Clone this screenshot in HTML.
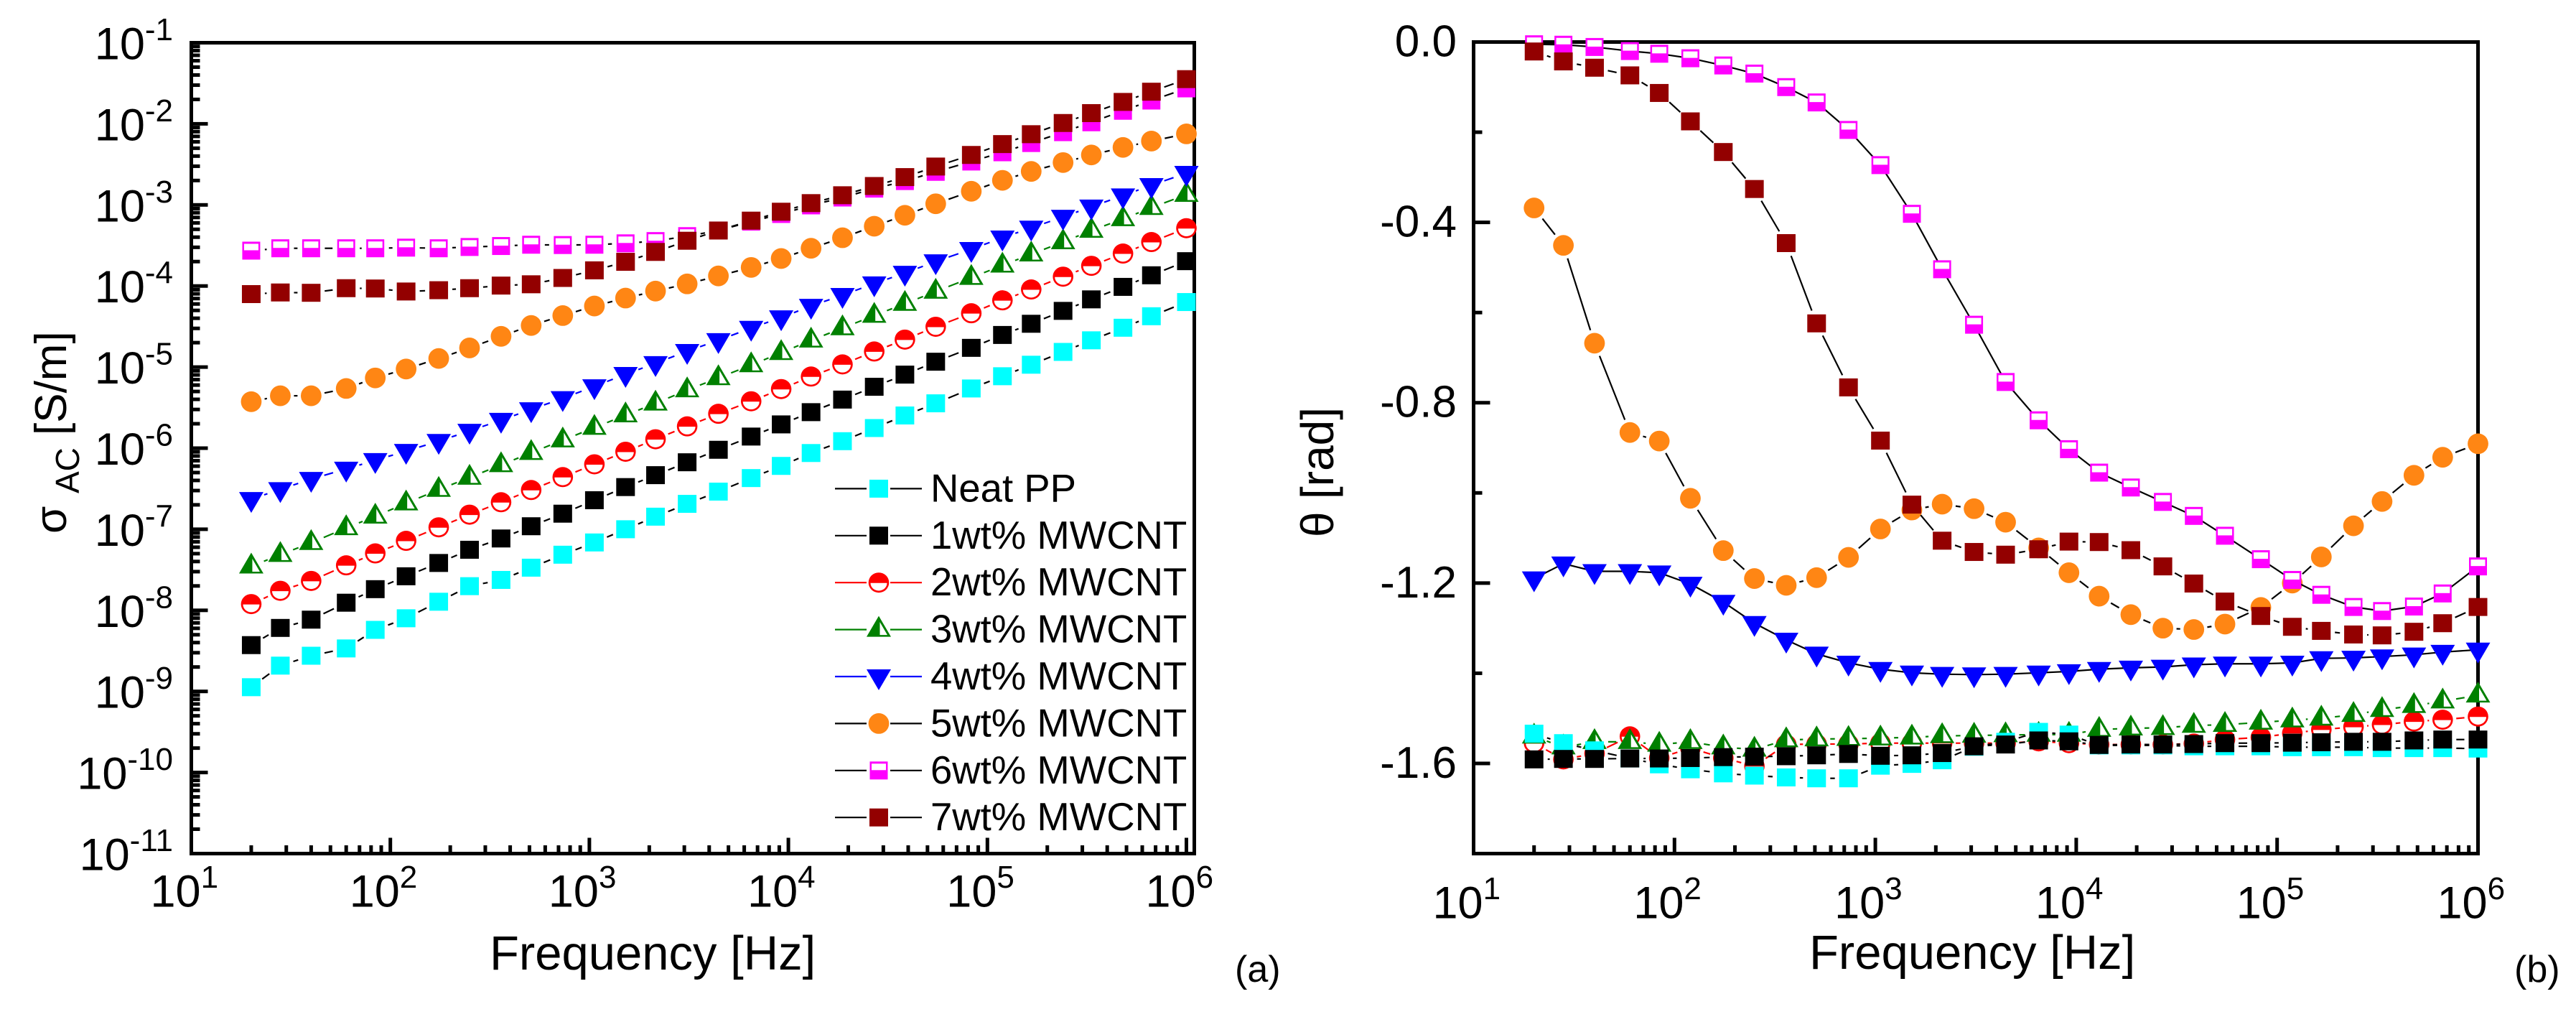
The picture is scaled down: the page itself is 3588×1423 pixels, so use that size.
<!DOCTYPE html>
<html lang="en">
<head>
<meta charset="utf-8">
<title>AC conductivity and phase angle versus frequency</title>
<style>
html,body{margin:0;padding:0;background:#fff;width:3588px;height:1423px;overflow:hidden}
svg{display:block;font-family:"Liberation Sans",sans-serif;fill:#000}
</style>
</head>
<body>
<svg id="figure" xmlns="http://www.w3.org/2000/svg" width="3588" height="1423" viewBox="0 0 3588 1423"></svg>
<script>
const frequencyHz = [20,28,40,60,84,120,175,250,360,510,735,1060,1520,2150,3100,4450,6500,9200,13000,18700,27000,38500,55000,83000,119000,166000,240000,333000,480000,667000,1000000];

const xTickExponents = [1,2,3,4,5,6];
const sigmaTickExponents = [-1,-2,-3,-4,-5,-6,-7,-8,-9,-10,-11];
const thetaMajorTicks = [0,-0.4,-0.8,-1.2,-1.6];
const thetaMajorLabels = ['0.0','-0.4','-0.8','-1.2','-1.6'];
const thetaMinorTicks = [-0.2,-0.6,-1.0,-1.4];

const seriesNames = ['Neat PP','1wt% MWCNT','2wt% MWCNT','3wt% MWCNT','4wt% MWCNT','5wt% MWCNT','6wt% MWCNT','7wt% MWCNT'];

/* log10 of sigma AC in S/m, panel (a) */
const logSigmaNeat = [-8.948,-8.682,-8.56,-8.47,-8.241,-8.098,-7.894,-7.702,-7.625,-7.474,-7.314,-7.163,-7.0,-6.845,-6.687,-6.536,-6.369,-6.219,-6.06,-5.914,-5.752,-5.597,-5.447,-5.264,-5.113,-4.971,-4.813,-4.67,-4.515,-4.373,-4.198];
const logSigma1wt = [-8.429,-8.217,-8.115,-7.906,-7.739,-7.58,-7.416,-7.253,-7.114,-6.963,-6.808,-6.642,-6.48,-6.333,-6.174,-6.02,-5.857,-5.707,-5.556,-5.401,-5.243,-5.093,-4.934,-4.763,-4.604,-4.466,-4.307,-4.165,-4.011,-3.868,-3.694];
const logSigma2wt = [-7.923,-7.759,-7.637,-7.445,-7.298,-7.143,-6.976,-6.82,-6.667,-6.516,-6.357,-6.199,-6.044,-5.89,-5.731,-5.576,-5.422,-5.271,-5.117,-4.967,-4.808,-4.661,-4.503,-4.336,-4.177,-4.043,-3.885,-3.751,-3.6,-3.458,-3.287];
const logSigma3wt = [-7.457,-7.314,-7.167,-6.984,-6.841,-6.679,-6.512,-6.362,-6.207,-6.057,-5.902,-5.747,-5.593,-5.447,-5.284,-5.134,-4.975,-4.824,-4.67,-4.519,-4.365,-4.218,-4.068,-3.897,-3.746,-3.608,-3.458,-3.316,-3.173,-3.035,-2.873];
const logSigma4wt = [-6.63,-6.508,-6.382,-6.256,-6.15,-6.036,-5.914,-5.788,-5.654,-5.523,-5.385,-5.239,-5.088,-4.954,-4.804,-4.67,-4.519,-4.389,-4.247,-4.113,-3.971,-3.84,-3.698,-3.547,-3.405,-3.283,-3.149,-3.023,-2.885,-2.758,-2.608];
const logSigma5wt = [-5.427,-5.354,-5.354,-5.264,-5.134,-5.024,-4.894,-4.764,-4.621,-4.487,-4.365,-4.247,-4.149,-4.063,-3.974,-3.876,-3.771,-3.661,-3.535,-3.405,-3.263,-3.128,-2.986,-2.832,-2.697,-2.587,-2.478,-2.384,-2.291,-2.213,-2.124];
const logSigma6wt = [-3.564,-3.535,-3.535,-3.535,-3.535,-3.527,-3.535,-3.519,-3.507,-3.491,-3.495,-3.491,-3.474,-3.446,-3.385,-3.316,-3.206,-3.112,-3.006,-2.909,-2.799,-2.706,-2.592,-2.465,-2.351,-2.237,-2.103,-1.981,-1.839,-1.713,-1.563];
const logSigma7wt = [-4.1,-4.08,-4.084,-4.027,-4.031,-4.068,-4.052,-4.027,-3.995,-3.979,-3.901,-3.807,-3.702,-3.58,-3.442,-3.316,-3.194,-3.084,-2.978,-2.881,-2.767,-2.657,-2.527,-2.384,-2.25,-2.128,-1.99,-1.868,-1.73,-1.604,-1.449];

/* theta in rad, panel (b) */
const thetaNeat = [-1.534,-1.555,-1.571,-1.589,-1.602,-1.613,-1.622,-1.627,-1.631,-1.633,-1.633,-1.605,-1.601,-1.593,-1.563,-1.552,-1.53,-1.536,-1.56,-1.56,-1.56,-1.562,-1.562,-1.562,-1.564,-1.564,-1.564,-1.566,-1.566,-1.566,-1.567];
const theta1wt = [-1.591,-1.59,-1.59,-1.589,-1.589,-1.588,-1.586,-1.585,-1.584,-1.582,-1.579,-1.583,-1.582,-1.577,-1.562,-1.558,-1.549,-1.551,-1.559,-1.558,-1.558,-1.557,-1.555,-1.555,-1.554,-1.553,-1.552,-1.552,-1.549,-1.547,-1.547];
const theta2wt = [-1.555,-1.591,-1.578,-1.54,-1.588,-1.566,-1.588,-1.606,-1.558,-1.557,-1.557,-1.555,-1.555,-1.555,-1.555,-1.555,-1.551,-1.555,-1.558,-1.558,-1.558,-1.556,-1.547,-1.542,-1.533,-1.525,-1.519,-1.514,-1.507,-1.503,-1.496];
const theta3wt = [-1.54,-1.564,-1.552,-1.552,-1.558,-1.552,-1.564,-1.569,-1.548,-1.546,-1.545,-1.544,-1.542,-1.539,-1.538,-1.537,-1.536,-1.536,-1.525,-1.522,-1.521,-1.516,-1.514,-1.509,-1.504,-1.5,-1.492,-1.481,-1.472,-1.462,-1.449];
const theta4wt = [-1.19,-1.157,-1.174,-1.174,-1.177,-1.202,-1.242,-1.289,-1.326,-1.357,-1.377,-1.391,-1.399,-1.402,-1.403,-1.402,-1.399,-1.396,-1.391,-1.388,-1.386,-1.381,-1.379,-1.379,-1.377,-1.367,-1.366,-1.363,-1.359,-1.353,-1.348];
const theta5wt = [-0.368,-0.451,-0.668,-0.866,-0.885,-1.012,-1.128,-1.19,-1.205,-1.188,-1.143,-1.08,-1.038,-1.025,-1.035,-1.065,-1.122,-1.177,-1.229,-1.27,-1.3,-1.303,-1.291,-1.254,-1.2,-1.142,-1.073,-1.019,-0.961,-0.921,-0.891];
const theta6wt = [-0.005,-0.006,-0.011,-0.02,-0.026,-0.036,-0.052,-0.07,-0.1,-0.134,-0.195,-0.273,-0.381,-0.504,-0.627,-0.754,-0.839,-0.903,-0.955,-0.988,-1.02,-1.051,-1.095,-1.147,-1.193,-1.226,-1.253,-1.262,-1.252,-1.223,-1.163];
const theta7wt = [-0.021,-0.043,-0.057,-0.074,-0.113,-0.176,-0.244,-0.326,-0.446,-0.624,-0.766,-0.884,-1.026,-1.106,-1.131,-1.137,-1.125,-1.108,-1.109,-1.127,-1.163,-1.201,-1.241,-1.273,-1.297,-1.306,-1.314,-1.316,-1.308,-1.289,-1.253];

const NS = 'http://www.w3.org/2000/svg';
const figure = document.getElementById('figure');

const COL_CYAN = '#00ffff', COL_BLACK = '#000000', COL_RED = '#ff0000', COL_GREEN = '#008000',
      COL_BLUE = '#0000ff', COL_ORANGE = '#ff8614', COL_MAGENTA = '#ff00ff', COL_DARKRED = '#930000';

/* axis functions */
function xLeft(f){ return 266.5 + (Math.log10(f) - 1) * 277.2; }
function yLeft(logS){ return 59.5 + (-1 - logS) * 112.9; }
function xRight(f){ return 2052.5 + (Math.log10(f) - 1) * 279.8; }
function yRight(t){ return 58.5 - t * 627.8; }

function mk(parent, tag, attrs){
  const e = document.createElementNS(NS, tag);
  for (const k in attrs) e.setAttribute(k, attrs[k]);
  parent.appendChild(e);
  return e;
}

function slug(s){ return s.toLowerCase().replace(/%/g,'pct').replace(/[^a-z0-9]+/g,'-'); }

function drawMarker(parent, type, cx, cy, color, name){
  const g = mk(parent, 'g', {});
  
  
  if (type === 'square'){
    mk(g, 'rect', {x:cx-13, y:cy-12.5, width:26, height:25, fill:color});
  } else if (type === 'halfSquare'){
    mk(g, 'rect', {x:cx-12.5, y:cy-12.5, width:25, height:25, fill:color});
    mk(g, 'rect', {x:cx-10, y:cy-9.5, width:20, height:9, fill:'#fff'});
  } else if (type === 'circle'){
    mk(g, 'ellipse', {cx:cx, cy:cy, rx:14.4, ry:14.4, fill:color});
  } else if (type === 'halfCircle'){
    mk(g, 'ellipse', {cx:cx, cy:cy, rx:14.3, ry:14, fill:color});
    mk(g, 'path', {d:'M'+(cx-11.5)+','+(cy+0.5)+' A11.5,10.8 0 0 0 '+(cx+11.5)+','+(cy+0.5)+' Z', fill:'#fff'});
  } else if (type === 'halfTriangle'){
    mk(g, 'polygon', {points:cx+','+(cy-19)+' '+(cx+17)+','+(cy+10)+' '+(cx-17)+','+(cy+10), fill:color});
    mk(g, 'polygon', {points:(cx+1.5)+','+(cy-10.5)+' '+(cx+12)+','+(cy+7.5)+' '+(cx+1.5)+','+(cy+7.5), fill:'#fff'});
  } else if (type === 'downTriangle'){
    mk(g, 'polygon', {points:cx+','+(cy+19)+' '+(cx+17)+','+(cy-10)+' '+(cx-17)+','+(cy-10), fill:color});
  }
  return g;
}

function drawSeries(parent, name, xs, ys, type, color, lineColor, gap){
  const g = mk(parent, 'g', {});
  
  
  for (let i = 0; i < xs.length - 1; i++){
    const dx = xs[i+1] - xs[i], dy = ys[i+1] - ys[i];
    const len = Math.sqrt(dx*dx + dy*dy);
    if (len <= 2 * gap) continue;
    const ux = dx/len, uy = dy/len;
    const seg = mk(g, 'line', {x1:xs[i]+ux*gap, y1:ys[i]+uy*gap, x2:xs[i+1]-ux*gap, y2:ys[i+1]-uy*gap, stroke:lineColor, 'stroke-width':2.2});
    
    
  }
  for (let i = 0; i < xs.length; i++){
    drawMarker(g, type, xs[i], ys[i], color, 'point-' + slug(name));
  }
}

function drawFrame(parent, name, x0, y0, x1, y1){
  const r = mk(parent, 'rect', {x:x0, y:y0, width:x1-x0, height:y1-y0, fill:'none', stroke:'#000', 'stroke-width':5});
  
  
}

function drawExpLabel(parent, name, x, y, anchor, exponent, supDy){
  const t = mk(parent, 'text', {x:x, y:y, 'text-anchor':anchor, 'font-size':63});
  
  
  t.appendChild(document.createTextNode('10'));
  const s = mk(t, 'tspan', {dy:supDy, 'font-size':44});
  s.textContent = String(exponent);
}

function drawXAxis(parent, prefix, xFn, labelY){
  const minorMult = [2,3,4,5,6,7,8,9];
  xTickExponents.forEach(function(k){
    const x = xFn(Math.pow(10,k));
    const major = mk(parent, 'rect', {x:x-2.5, y:1166.5, width:5, height:20, fill:'#000'});
    
    
    drawExpLabel(parent, prefix + '-x-tick-label', x-57, labelY, 'start', k, -26.5);
    if (k < 6){
      minorMult.forEach(function(m){
        const mx = xFn(m*Math.pow(10,k));
        const minor = mk(parent, 'rect', {x:mx-2.5, y:1177, width:5, height:10, fill:'#000'});
        
        
      });
    }
  });
}

function drawAxisText(parent, name, text, x, y, size, rotate){
  const attrs = {x:x, y:y, 'font-size':size};
  if (rotate) attrs.transform = 'rotate(-90 ' + x + ' ' + y + ')';
  const t = mk(parent, 'text', attrs);
  
  
  t.textContent = text;
  return t;
}

/* ---------- Panel (a) ---------- */
const panelA = mk(figure, 'g', {});



drawFrame(panelA, 'conductivity-plot-frame', 266.5, 59.5, 1663.5, 1188.5);
drawXAxis(panelA, 'conductivity', xLeft, 1262.5);

sigmaTickExponents.forEach(function(k, i){
  const y = yLeft(k);
  const major = mk(panelA, 'rect', {x:266.5, y:y-2.5, width:23, height:5, fill:'#000'});
  
  
  drawExpLabel(panelA, 'conductivity-y-tick-label', 241, y+23, 'end', k, -26.5);
  if (i < sigmaTickExponents.length - 1){
    [2,3,4,5,6,7,8,9].forEach(function(m){
      const my = yLeft(k - 1 + Math.log10(m));
      const minor = mk(panelA, 'rect', {x:266.5, y:my-2.5, width:12, height:5, fill:'#000'});
      
      
    });
  }
});

const xsA = frequencyHz.map(xLeft);
drawSeries(panelA, seriesNames[0], xsA, logSigmaNeat.map(yLeft), 'square', COL_CYAN, COL_BLACK, 19);
drawSeries(panelA, seriesNames[1], xsA, logSigma1wt.map(yLeft), 'square', COL_BLACK, COL_BLACK, 19);
drawSeries(panelA, seriesNames[2], xsA, logSigma2wt.map(yLeft), 'halfCircle', COL_RED, COL_RED, 19);
drawSeries(panelA, seriesNames[3], xsA, logSigma3wt.map(yLeft), 'halfTriangle', COL_GREEN, COL_GREEN, 19);
drawSeries(panelA, seriesNames[4], xsA, logSigma4wt.map(yLeft), 'downTriangle', COL_BLUE, COL_BLUE, 19);
drawSeries(panelA, seriesNames[5], xsA, logSigma5wt.map(yLeft), 'circle', COL_ORANGE, COL_BLACK, 19);
drawSeries(panelA, seriesNames[6], xsA, logSigma6wt.map(yLeft), 'halfSquare', COL_MAGENTA, COL_BLACK, 19);
drawSeries(panelA, seriesNames[7], xsA, logSigma7wt.map(yLeft), 'square', COL_DARKRED, COL_BLACK, 19);

drawAxisText(panelA, 'conductivity-x-axis-title', 'Frequency [Hz]', 682, 1350, 67, false);
drawAxisText(panelA, 'y-axis-title-sigma', 'σ', 92, 743, 62, true);
drawAxisText(panelA, 'y-axis-title-subscript', 'AC', 110, 687, 46, true);
drawAxisText(panelA, 'y-axis-title-unit', '[S/m]', 92, 606, 62, true);
drawAxisText(panelA, 'panel-label-a', '(a)', 1720, 1367, 52, false);

/* legend */
const legend = mk(panelA, 'g', {});


const legendTypes = ['square','square','halfCircle','halfTriangle','downTriangle','circle','halfSquare','square'];
const legendColors = [COL_CYAN,COL_BLACK,COL_RED,COL_GREEN,COL_BLUE,COL_ORANGE,COL_MAGENTA,COL_DARKRED];
const legendLines = [COL_BLACK,COL_BLACK,COL_RED,COL_GREEN,COL_BLUE,COL_BLACK,COL_BLACK,COL_BLACK];
seriesNames.forEach(function(n, i){
  const y = 680.4 + i * 65.4;
  const entry = mk(legend, 'g', {});
  
  
  const l1 = mk(entry, 'line', {x1:1163, y1:y, x2:1207, y2:y, stroke:legendLines[i], 'stroke-width':2.2});
  
  
  const l2 = mk(entry, 'line', {x1:1240, y1:y, x2:1284, y2:y, stroke:legendLines[i], 'stroke-width':2.2});
  
  
  drawMarker(entry, legendTypes[i], 1224, y, legendColors[i], 'legend-marker');
  const t = mk(entry, 'text', {x:1296, y:y+18, 'font-size':54.5});
  
  
  t.textContent = n;
});

/* ---------- Panel (b) ---------- */
const panelB = mk(figure, 'g', {});



drawFrame(panelB, 'phase-plot-frame', 2052.5, 58.5, 3451.5, 1188.5);
drawXAxis(panelB, 'phase', xRight, 1278.6);

thetaMajorTicks.forEach(function(v, i){
  const y = yRight(v);
  const major = mk(panelB, 'rect', {x:2052.5, y:y-2.5, width:23, height:5, fill:'#000'});
  
  
  const t = mk(panelB, 'text', {x:2029, y:y+20, 'text-anchor':'end', 'font-size':62});
  
  
  t.textContent = thetaMajorLabels[i];
});
thetaMinorTicks.forEach(function(v){
  const minor = mk(panelB, 'rect', {x:2052.5, y:yRight(v)-2.5, width:12, height:5, fill:'#000'});
  
  
});

const xsB = frequencyHz.map(xRight);
drawSeries(panelB, seriesNames[2], xsB, theta2wt.map(yRight), 'halfCircle', COL_RED, COL_RED, 19);
drawSeries(panelB, seriesNames[3], xsB, theta3wt.map(yRight), 'halfTriangle', COL_GREEN, COL_GREEN, 19);
drawSeries(panelB, seriesNames[0], xsB, thetaNeat.map(yRight), 'square', COL_CYAN, COL_BLACK, 19);
drawSeries(panelB, seriesNames[1], xsB, theta1wt.map(yRight), 'square', COL_BLACK, COL_BLACK, 19);
drawSeries(panelB, seriesNames[4], xsB, theta4wt.map(yRight), 'downTriangle', COL_BLUE, COL_BLACK, 0);
drawSeries(panelB, seriesNames[5], xsB, theta5wt.map(yRight), 'circle', COL_ORANGE, COL_BLACK, 19);
drawSeries(panelB, seriesNames[6], xsB, theta6wt.map(yRight), 'halfSquare', COL_MAGENTA, COL_BLACK, 0);
drawSeries(panelB, seriesNames[7], xsB, theta7wt.map(yRight), 'square', COL_DARKRED, COL_BLACK, 19);

drawAxisText(panelB, 'phase-x-axis-title', 'Frequency [Hz]', 2520, 1349, 67, false);
drawAxisText(panelB, 'phase-y-axis-title-symbol', 'θ', 1857, 748, 64, true);
drawAxisText(panelB, 'phase-y-axis-title-unit', '[rad]', 1857, 695, 64, true);
drawAxisText(panelB, 'panel-label-b', '(b)', 3502, 1367, 52, false);
</script>
</body>
</html>
